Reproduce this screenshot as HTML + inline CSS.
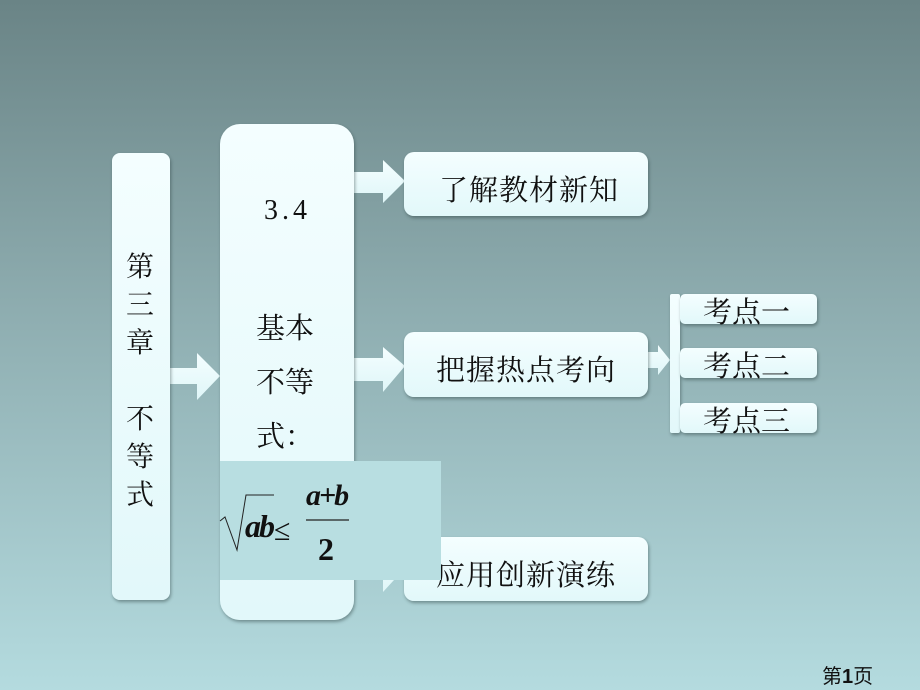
<!DOCTYPE html>
<html><head><meta charset="utf-8"><style>
html,body{margin:0;padding:0}
body{width:920px;height:690px;position:relative;overflow:hidden;
background:linear-gradient(180deg,#6a8486 0%,#8eadb0 45%,#b4dbdf 100%);
font-family:"Liberation Serif","Noto Serif CJK SC","Noto Sans CJK SC",serif;color:#111}
.box{position:absolute;background:linear-gradient(180deg,#f4feff,#e2f8fa);box-shadow:1px 2px 3px rgba(40,60,60,.45);box-sizing:border-box}
.t{position:absolute;font-size:26px;white-space:nowrap}
</style></head><body>
<svg width="920" height="690" style="position:absolute;left:0;top:0">
<defs><linearGradient id="g" x1="0" y1="0" x2="0" y2="1"><stop offset="0" stop-color="#f4feff"/><stop offset="1" stop-color="#dff6f8"/></linearGradient></defs>
<g fill="url(#g)">
<polygon points="168,368 197,368 197,353 220,376 197,400 197,384 168,384"/>
<polygon points="354,172 383,172 383,160 405,181 383,203 383,193 354,193"/>
<polygon points="354,358 383,358 383,347 405,366 383,392 383,381 354,381"/>
<polygon points="354,556 383,556 383,545 405,568 383,592 383,580 354,580"/>
<polygon points="648,352 658,352 658,345 670,360 658,375 658,368 648,368"/>
</g>
</svg>
<div class="box" style="left:112px;top:153px;width:58px;height:447px;border-radius:8px"></div>
<div class="box" style="left:220px;top:124px;width:134px;height:496px;border-radius:20px"></div>
<div class="box" style="left:404px;top:152px;width:244px;height:64px;border-radius:10px"></div>
<div class="box" style="left:404px;top:332px;width:244px;height:65px;border-radius:10px"></div>
<div class="box" style="left:404px;top:537px;width:244px;height:64px;border-radius:10px"></div>
<div class="box" style="left:670px;top:294px;width:10px;height:139px;border-radius:2px"></div>
<div class="box" style="left:680px;top:294px;width:137px;height:30px;border-radius:5px"></div>
<div class="box" style="left:680px;top:348px;width:137px;height:30px;border-radius:5px"></div>
<div class="box" style="left:680px;top:403px;width:137px;height:30px;border-radius:5px"></div>

<div class="t" style="left:126px;top:249px;line-height:38px;font-size:28px;width:30px;white-space:normal">第<br>三<br>章<br><br>不<br>等<br>式</div>
<div class="t" style="left:264px;top:195px;font-size:28px;letter-spacing:4px">3.4</div>
<div class="t" style="left:256px;top:302px;line-height:54px;font-size:29px">基本<br>不等<br>式：</div>

<div class="t" style="left:439px;top:168px;font-size:29px;letter-spacing:1px">了解教材新知</div>
<div class="t" style="left:436px;top:348px;font-size:29px;letter-spacing:1px">把握热点考向</div>
<div class="t" style="left:436px;top:553px;font-size:29px;letter-spacing:1px">应用创新演练</div>
<div class="t" style="left:703px;top:296px;font-size:29px;line-height:34px">考点一</div>
<div class="t" style="left:703px;top:350px;font-size:29px;line-height:34px">考点二</div>
<div class="t" style="left:703px;top:405px;font-size:29px;line-height:34px">考点三</div>

<div style="position:absolute;left:220px;top:461px;width:221px;height:119px;background:#b8dee1"></div>
<svg width="920" height="690" style="position:absolute;left:0;top:0">
<polyline points="220,521 225,517 237,550 246,495 274,495" fill="none" stroke="#222" stroke-width="1"/>
<line x1="306" y1="520" x2="349" y2="520" stroke="#222" stroke-width="1.2"/>
<text x="245" y="537" font-family="Liberation Serif" font-style="italic" font-weight="bold" font-size="32" fill="#111" letter-spacing="-2">ab</text>
<text x="274" y="540" font-family="Liberation Serif" font-size="30" fill="#111">≤</text>
<text x="306" y="505" font-family="Liberation Serif" font-style="italic" font-weight="bold" font-size="30" fill="#111" letter-spacing="-2">a+b</text>
<text x="318" y="560" font-family="Liberation Serif" font-weight="bold" font-size="32" fill="#111">2</text>
</svg>
<div class="t" style="left:822px;top:660px;font-size:20px;font-family:'Liberation Sans','Noto Sans CJK SC',sans-serif">第<b>1</b>页</div>
</body></html>
